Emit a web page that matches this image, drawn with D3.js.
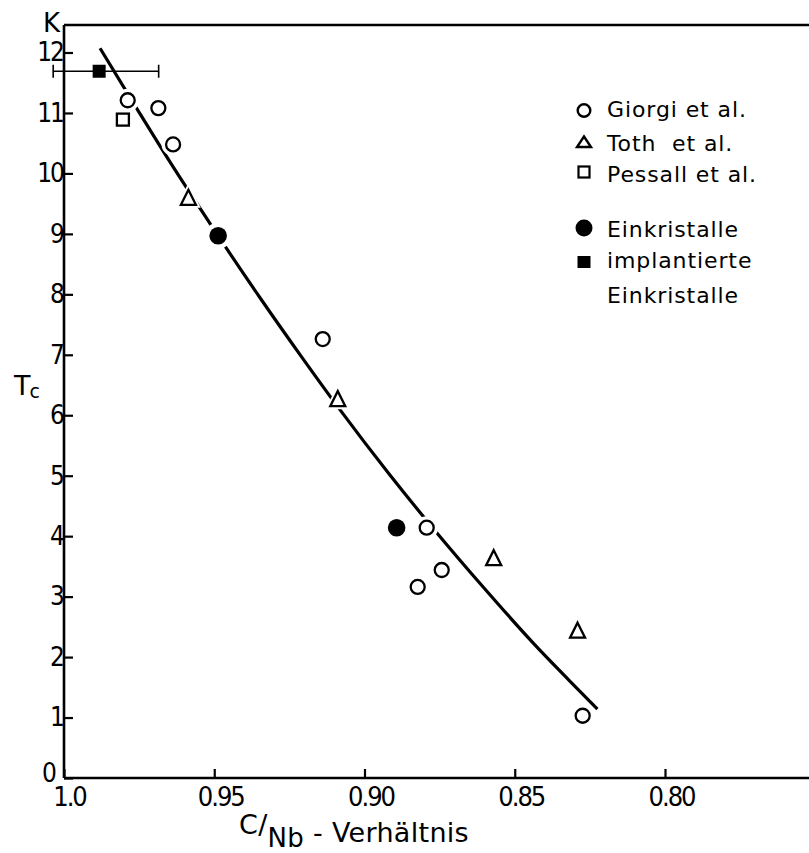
<!DOCTYPE html>
<html>
<head>
<meta charset="utf-8">
<script src="https://cdn.jsdelivr.net/npm/d3@7"></script>
<style>
  body { margin: 0; background: #fff; }
  svg { display: block; }
</style>
</head>
<body>
<svg id="chart" width="809" height="853"></svg>
<script>
// Tc (K) against C/Nb ratio, by source
const giorgiRatio = [0.9788, 0.9686, 0.9637, 0.9139, 0.8793, 0.8823, 0.8743, 0.8274];
const giorgiTc    = [11.21, 11.08, 10.48, 7.26, 4.14, 3.16, 3.44, 1.03];

const tothRatio = [0.9586, 0.9089, 0.8570, 0.8291];
const tothTc    = [9.58, 6.25, 3.62, 2.42];

const pessallRatio = [0.9804];
const pessallTc    = [10.89];

const crystalRatio = [0.9487, 0.8893];
const crystalTc    = [8.97, 4.14];

const implantedRatio = [0.9883];
const implantedTc    = [11.69];
const implantedRatioMin = [1.0036];
const implantedRatioMax = [0.9685];

// hand-drawn trend curve
const trendRatio = [0.988, 0.975, 0.965, 0.951, 0.935, 0.921, 0.908, 0.892, 0.877, 0.860, 0.844, 0.832, 0.8225];
const trendTc    = [12.07, 11.01, 10.21, 9.14, 7.96, 6.97, 6.08, 5.04, 4.12, 3.13, 2.24, 1.62, 1.14];

const xTicks = [1.0, 0.95, 0.90, 0.85, 0.80];
const xTickLabels = ["1.0", "0.95", "0.90", "0.85", "0.80"];
const yTicks = [0, 1, 2, 3, 4, 5, 6, 7, 8, 9, 10, 11, 12];

const legendLabels = ["Giorgi et al.", "Toth  et al.", "Pessall et al.", "Einkristalle", "implantierte", "Einkristalle"];

const numFont = "'DejaVu Sans Condensed', 'Liberation Sans Narrow', 'Liberation Sans', sans-serif";
const textFont = "'DejaVu Sans', 'Liberation Sans', sans-serif";

const svg = d3.select("#chart");
const x = d3.scaleLinear().domain([1.0, 0.80]).range([64, 665]);
const y = d3.scaleLinear().domain([0, 12]).range([778, 52.5]);

const frameLeft = x(1.0), frameRight = 809, frameTop = 25, frameBottom = y(0);

// frame: left axis, top edge, bottom axis
const frame = svg.append("g").attr("stroke", "#000").attr("stroke-width", 2.6).attr("fill", "none");
frame.append("line").attr("x1", frameLeft).attr("x2", frameLeft).attr("y1", frameTop).attr("y2", frameBottom);
frame.append("line").attr("x1", frameLeft).attr("x2", frameRight).attr("y1", frameTop).attr("y2", frameTop);
frame.append("line").attr("x1", frameLeft).attr("x2", frameRight).attr("y1", frameBottom).attr("y2", frameBottom);

// y axis
const yAxis = svg.append("g")
  .attr("transform", `translate(${frameLeft},0)`)
  .call(d3.axisLeft(y).tickValues(yTicks).tickFormat(d3.format("d"))
    .tickSizeInner(-9).tickSizeOuter(0).tickPadding(1));
yAxis.select(".domain").remove();
yAxis.selectAll(".tick line").attr("stroke", "#000").attr("stroke-width", 2.2);
yAxis.selectAll(".tick text")
  .attr("fill", "#000").style("font-family", numFont).style("font-size", "26px")
  .style("letter-spacing", "-2px");
// the zero sits in the corner, tucked up and left of the "1.0"
yAxis.selectAll(".tick").filter(d => d === 0).select("text").attr("x", -9).attr("y", -5);

// x axis
const xAxis = svg.append("g")
  .attr("transform", `translate(0,${frameBottom})`)
  .call(d3.axisBottom(x).tickValues(xTicks).tickFormat((d, i) => xTickLabels[i])
    .tickSizeInner(-9).tickSizeOuter(0).tickPadding(9));
xAxis.select(".domain").remove();
xAxis.selectAll(".tick line").attr("stroke", "#000").attr("stroke-width", 2.2);
xAxis.selectAll(".tick text")
  .attr("fill", "#000").attr("dx", (d, i) => i === 0 ? 5 : 6)
  .style("font-family", numFont).style("font-size", "27px").style("letter-spacing", "-2px");

// axis titles
svg.append("text").attr("x", 43).attr("y", 32)
  .style("font-family", textFont).style("font-size", "26px").text("K");

const tc = svg.append("text").attr("x", 14).attr("y", 395)
  .style("font-family", textFont).style("font-size", "27px");
tc.append("tspan").text("T");
tc.append("tspan").attr("dy", 3).attr("dx", -1).style("font-size", "19px").text("c");

const xt = svg.append("text").attr("x", 239).attr("y", 842)
  .style("font-family", textFont).style("font-size", "27px").style("letter-spacing", "0.3px");
xt.append("tspan").attr("dy", -8).text("C/");
xt.append("tspan").attr("dy", 13).style("font-size", "26px").text("Nb");
xt.append("tspan").attr("dy", -5).text(" - Verhältnis");

// trend curve
const trend = trendRatio.map((r, i) => [x(r), y(trendTc[i])]).sort((a, b) => a[0] - b[0]);
svg.append("path")
  .attr("d", d3.line().curve(d3.curveMonotoneX)(trend))
  .attr("fill", "none").attr("stroke", "#000").attr("stroke-width", 3.2).attr("stroke-linecap", "butt");

// marker shapes
const tri = (s) => `M0,${-s * 0.6}L${s / 2},${s * 0.4}L${-s / 2},${s * 0.4}Z`;

function drawMarkers(g, ratios, tcs, kind, haloWidth) {
  const pts = ratios.map((r, i) => ({ cx: x(r), cy: y(tcs[i]) }));
  [true, false].forEach(halo => {
    if (halo && !haloWidth) return;
    const sel = g.selectAll(null).data(pts).enter();
    let m;
    if (kind === "circle") {
      m = sel.append("circle").attr("cx", d => d.cx).attr("cy", d => d.cy).attr("r", 7);
    } else if (kind === "dot") {
      m = sel.append("circle").attr("cx", d => d.cx).attr("cy", d => d.cy).attr("r", 8.8);
    } else if (kind === "triangle") {
      m = sel.append("path").attr("d", tri(15)).attr("transform", d => `translate(${d.cx},${d.cy})`);
    } else if (kind === "square") {
      m = sel.append("rect").attr("x", d => d.cx - 6).attr("y", d => d.cy - 6).attr("width", 12).attr("height", 12);
    } else {
      m = sel.append("rect").attr("x", d => d.cx - 6.5).attr("y", d => d.cy - 6.5).attr("width", 13).attr("height", 13);
    }
    if (halo) {
      m.attr("fill", "#fff").attr("stroke", "#fff").attr("stroke-width", haloWidth);
    } else if (kind === "dot" || kind === "block") {
      m.attr("fill", "#000").attr("stroke", "none");
    } else {
      m.attr("fill", "#fff").attr("stroke", "#000").attr("stroke-width", 2.3).attr("stroke-linejoin", "miter");
    }
  });
}

const marks = svg.append("g");
drawMarkers(marks, giorgiRatio, giorgiTc, "circle", 9);
drawMarkers(marks, tothRatio, tothTc, "triangle", 6);
drawMarkers(marks, pessallRatio, pessallTc, "square", 6);
drawMarkers(marks, crystalRatio, crystalTc, "dot", 9);

// implanted crystal with its ratio range
const eb = svg.append("g").attr("stroke", "#000").attr("stroke-width", 1.6);
implantedRatio.forEach((r, i) => {
  const cy = y(implantedTc[i]);
  const x0 = x(implantedRatioMin[i]), x1 = x(implantedRatioMax[i]);
  eb.append("line").attr("x1", x0).attr("x2", x1).attr("y1", cy).attr("y2", cy);
  eb.append("line").attr("x1", x0).attr("x2", x0).attr("y1", cy - 6.5).attr("y2", cy + 6.5);
  eb.append("line").attr("x1", x1).attr("x2", x1).attr("y1", cy - 6.5).attr("y2", cy + 6.5);
});
drawMarkers(svg.append("g"), implantedRatio, implantedTc, "block", 0);

// legend
const lg = svg.append("g");
const lx = 584, tx = 607;
lg.append("circle").attr("cx", lx).attr("cy", 110.5).attr("r", 6.3)
  .attr("fill", "#fff").attr("stroke", "#000").attr("stroke-width", 2.4);
lg.append("path").attr("d", `M0,-6L7,4.5L-7,4.5Z`).attr("transform", `translate(${lx},142.5)`)
  .attr("fill", "#fff").attr("stroke", "#000").attr("stroke-width", 2.4);
lg.append("rect").attr("x", lx - 5.5).attr("y", 166.5).attr("width", 11).attr("height", 11)
  .attr("fill", "#fff").attr("stroke", "#000").attr("stroke-width", 2.2);
lg.append("circle").attr("cx", lx).attr("cy", 228).attr("r", 8.5).attr("fill", "#000");
lg.append("rect").attr("x", lx - 6.5).attr("y", 256).attr("width", 13).attr("height", 12).attr("fill", "#000");

const legendBaselines = [117, 151, 182, 237, 268, 303];
lg.selectAll("text.leg").data(legendLabels).enter().append("text")
  .attr("class", "leg")
  .attr("x", tx).attr("y", (d, i) => legendBaselines[i])
  .attr("xml:space", "preserve").style("white-space", "pre")
  .style("font-family", textFont).style("font-size", "22px").style("letter-spacing", "0.9px")
  .text(d => d);
</script>
</body>
</html>
